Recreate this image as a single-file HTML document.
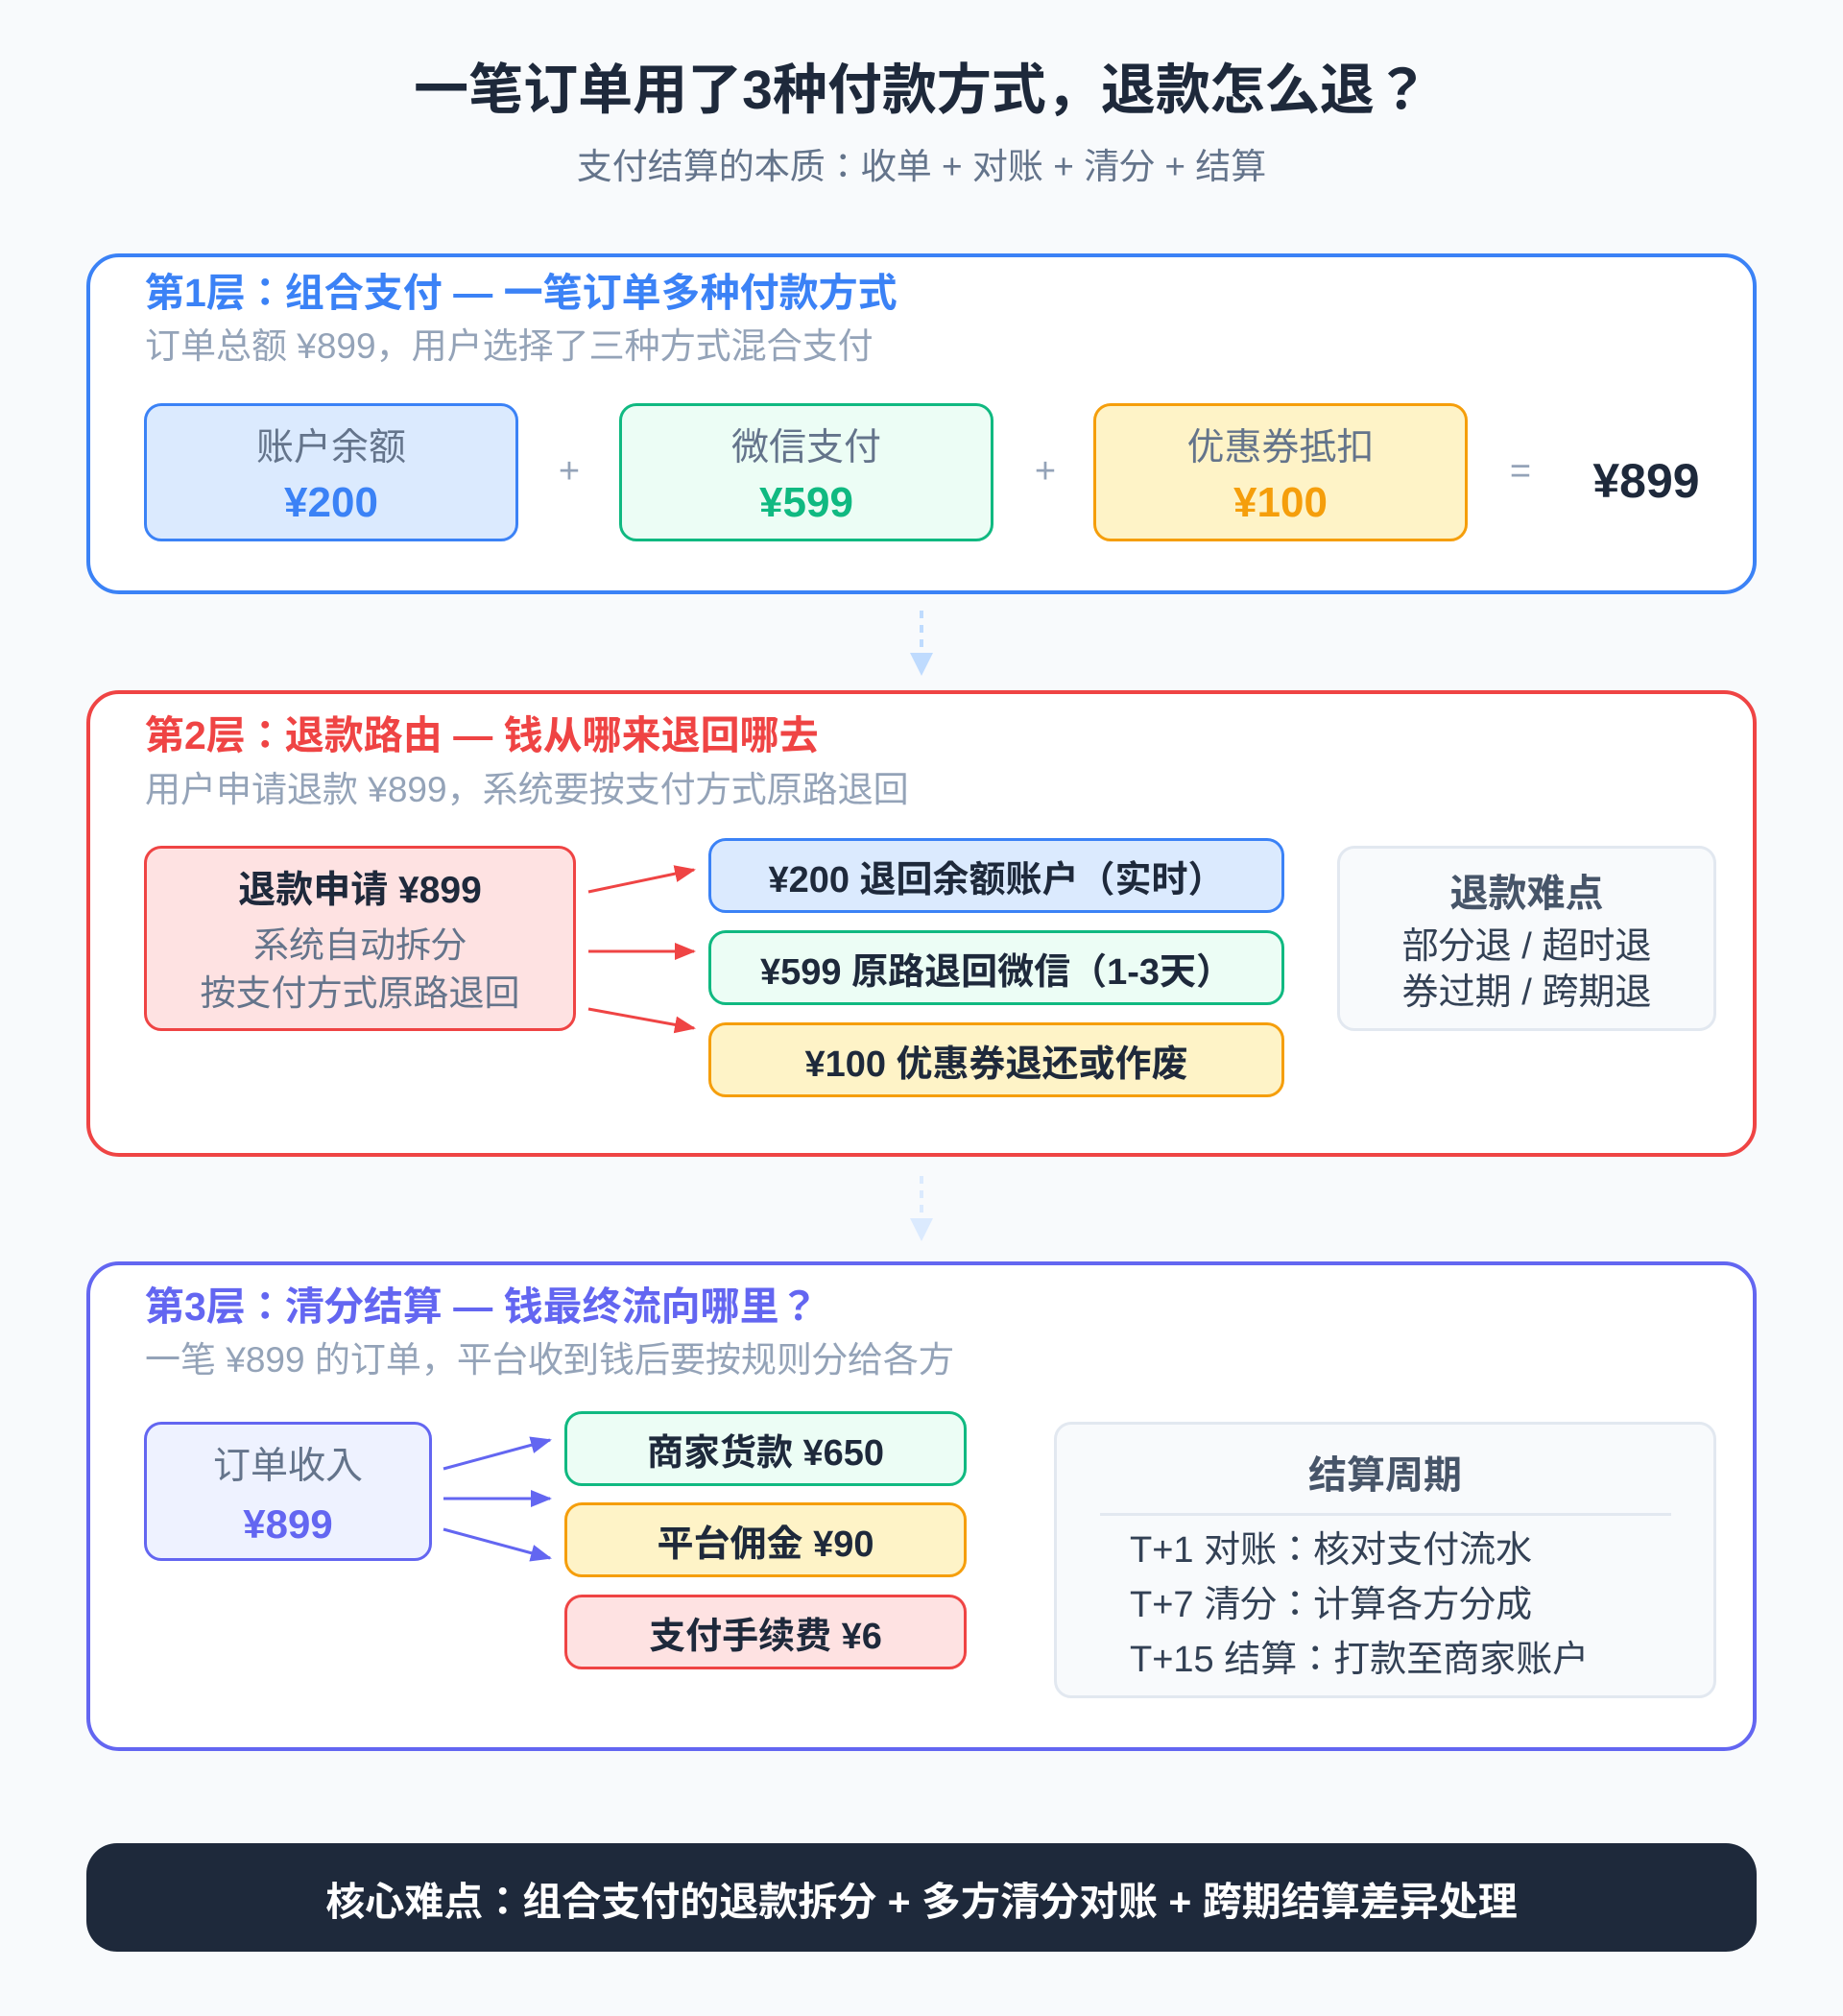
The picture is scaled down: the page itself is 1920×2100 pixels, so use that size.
<!DOCTYPE html>
<html><head><meta charset="utf-8"><style>
*{margin:0;padding:0;box-sizing:border-box}
body{width:1920px;height:2100px;background:#f8fafc;font-family:"Liberation Sans","Noto Sans CJK JP",sans-serif;position:relative;overflow:hidden;color:#1e293b}
.a{position:absolute}
.c{position:absolute;display:flex;flex-direction:column;align-items:center;justify-content:center;text-align:center}
.panel{position:absolute;left:90px;width:1740px;background:#fff;border-radius:34px;border:4px solid}
.h{position:absolute;left:151px;font-weight:bold;font-size:41px;line-height:1;white-space:nowrap}
.s{position:absolute;left:151px;font-size:37px;color:#94a3b8;line-height:1;white-space:nowrap}
.bx{border-radius:18px;border:3px solid}
.b{font-weight:bold}
</style></head><body>
<div class="a b" style="left:0;width:1920px;top:62px;text-align:center;font-size:57px;line-height:64px">一笔订单用了3种付款方式，退款怎么退？</div>
<div class="a" style="left:0;width:1920px;top:153px;text-align:center;font-size:37px;line-height:42px;color:#64748b">支付结算的本质：收单 + 对账 + 清分 + 结算</div>

<div class="panel" style="top:264px;height:355px;border-color:#3b82f6"></div>
<div class="h" style="top:285px;color:#3b82f6">第1层：组合支付 — 一笔订单多种付款方式</div>
<div class="s" style="top:342px">订单总额 ¥899，用户选择了三种方式混合支付</div>
<div class="c bx" style="left:150px;top:420px;width:390px;height:144px;background:#dbeafe;border-color:#3b82f6"><div style="font-size:39px;color:#64748b">账户余额</div><div class="b" style="font-size:44px;color:#3b82f6;margin-top:8px">¥200</div></div>
<div class="c bx" style="left:645px;top:420px;width:390px;height:144px;background:#ecfdf5;border-color:#10b981"><div style="font-size:39px;color:#64748b">微信支付</div><div class="b" style="font-size:44px;color:#10b981;margin-top:8px">¥599</div></div>
<div class="c bx" style="left:1139px;top:420px;width:390px;height:144px;background:#fef3c7;border-color:#f59e0b"><div style="font-size:39px;color:#64748b">优惠券抵扣</div><div class="b" style="font-size:44px;color:#f59e0b;margin-top:8px">¥100</div></div>
<div class="a" style="left:573px;top:470px;width:40px;text-align:center;font-size:38px;color:#94a3b8">+</div>
<div class="a" style="left:1069px;top:470px;width:40px;text-align:center;font-size:38px;color:#94a3b8">+</div>
<div class="a" style="left:1564px;top:470px;width:40px;text-align:center;font-size:38px;color:#94a3b8">=</div>
<div class="a b" style="left:1615px;top:472px;width:200px;text-align:center;font-size:50px">¥899</div>

<svg class="a" style="left:0;top:0" width="1920" height="2100">
<defs>
<marker id="r" markerWidth="22" markerHeight="22" refX="20" refY="11" orient="auto" markerUnits="userSpaceOnUse" viewBox="0 0 22 22"><path d="M0,2L22,11L0,20z" fill="#ef4444"/></marker>
<marker id="i" markerWidth="22" markerHeight="22" refX="20" refY="11" orient="auto" markerUnits="userSpaceOnUse" viewBox="0 0 22 22"><path d="M0,2L22,11L0,20z" fill="#6366f1"/></marker>
</defs>
<line x1="960" y1="636" x2="960" y2="680" stroke="#bfdbfe" stroke-width="4" stroke-dasharray="8 7"/>
<path d="M948,680L972,680L960,704z" fill="#bfdbfe"/>
<line x1="960" y1="1225" x2="960" y2="1269" stroke="#dbeafe" stroke-width="4" stroke-dasharray="8 7"/>
<path d="M948,1269L972,1269L960,1293z" fill="#dbeafe"/>
</svg>

<div class="panel" style="top:719px;height:486px;border-color:#ef4444"></div>
<div class="h" style="top:746px;color:#ef4444">第2层：退款路由 — 钱从哪来退回哪去</div>
<div class="s" style="top:804px">用户申请退款 ¥899，系统要按支付方式原路退回</div>
<div class="c bx" style="left:150px;top:881px;width:450px;height:193px;background:#fee2e2;border-color:#ef4444"><div class="b" style="font-size:39px">退款申请 ¥899</div><div style="font-size:37px;color:#64748b;margin-top:8px;line-height:50px">系统自动拆分<br>按支付方式原路退回</div></div>
<div class="c bx" style="left:738px;top:873px;width:600px;height:78px;background:#dbeafe;border-color:#3b82f6;font-size:38px;font-weight:bold">¥200 退回余额账户（实时）</div>
<div class="c bx" style="left:738px;top:969px;width:600px;height:78px;background:#ecfdf5;border-color:#10b981;font-size:38px;font-weight:bold">¥599 原路退回微信（1-3天）</div>
<div class="c bx" style="left:738px;top:1065px;width:600px;height:78px;background:#fef3c7;border-color:#f59e0b;font-size:38px;font-weight:bold">¥100 优惠券退还或作废</div>
<div class="c bx" style="left:1393px;top:881px;width:395px;height:193px;background:#f8fafc;border-color:#e2e8f0"><div class="b" style="font-size:40px;color:#475569">退款难点</div><div style="font-size:38px;color:#334155;line-height:48px;margin-top:6px">部分退 / 超时退<br>券过期 / 跨期退</div></div>

<div class="panel" style="top:1314px;height:510px;border-color:#6366f1"></div>
<div class="h" style="top:1341px;color:#6366f1">第3层：清分结算 — 钱最终流向哪里？</div>
<div class="s" style="top:1398px">一笔 ¥899 的订单，平台收到钱后要按规则分给各方</div>
<div class="c bx" style="left:150px;top:1481px;width:300px;height:145px;background:#eef2ff;border-color:#6366f1"><div style="font-size:39px;color:#64748b">订单收入</div><div class="b" style="font-size:42px;color:#6366f1;margin-top:12px">¥899</div></div>
<div class="c bx" style="left:588px;top:1470px;width:419px;height:78px;background:#ecfdf5;border-color:#10b981;font-size:38px;font-weight:bold">商家货款 ¥650</div>
<div class="c bx" style="left:588px;top:1565px;width:419px;height:78px;background:#fef3c7;border-color:#f59e0b;font-size:38px;font-weight:bold">平台佣金 ¥90</div>
<div class="c bx" style="left:588px;top:1661px;width:419px;height:78px;background:#fee2e2;border-color:#ef4444;font-size:38px;font-weight:bold">支付手续费 ¥6</div>
<div class="a bx" style="left:1098px;top:1481px;width:690px;height:288px;background:#f8fafc;border-color:#e2e8f0"></div>
<div class="a b" style="left:1098px;width:690px;top:1504px;text-align:center;font-size:40px;color:#475569">结算周期</div>
<div class="a" style="left:1146px;top:1576px;width:595px;height:3px;background:#e2e8f0"></div>
<div class="a" style="left:1177px;top:1587px;font-size:38px;line-height:57px;color:#334155;white-space:nowrap">T+1 对账：核对支付流水<br>T+7 清分：计算各方分成<br>T+15 结算：打款至商家账户</div>

<svg class="a" style="left:0;top:0" width="1920" height="2100">
<line x1="613" y1="929" x2="723" y2="906" stroke="#ef4444" stroke-width="3" marker-end="url(#r)"/>
<line x1="613" y1="991" x2="723" y2="991" stroke="#ef4444" stroke-width="3" marker-end="url(#r)"/>
<line x1="613" y1="1051" x2="723" y2="1071" stroke="#ef4444" stroke-width="3" marker-end="url(#r)"/>
<line x1="462" y1="1530" x2="573" y2="1500" stroke="#6366f1" stroke-width="3" marker-end="url(#i)"/>
<line x1="462" y1="1561" x2="573" y2="1561" stroke="#6366f1" stroke-width="3" marker-end="url(#i)"/>
<line x1="462" y1="1593" x2="573" y2="1623" stroke="#6366f1" stroke-width="3" marker-end="url(#i)"/>
</svg>

<div class="c" style="left:90px;top:1920px;width:1740px;height:113px;background:#1e293b;border-radius:32px;color:#fff;font-size:41px;font-weight:bold">核心难点：组合支付的退款拆分 + 多方清分对账 + 跨期结算差异处理</div>
</body></html>
